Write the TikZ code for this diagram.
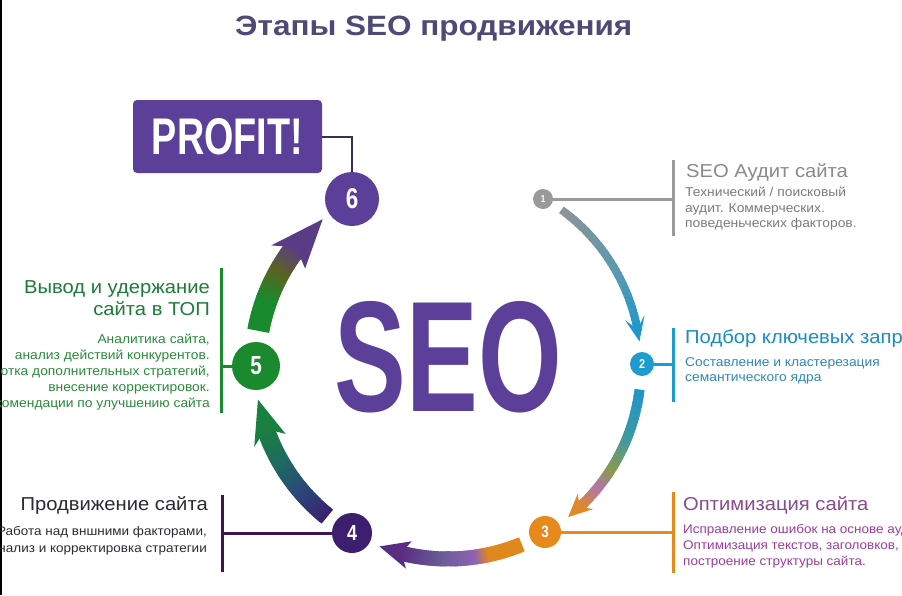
\documentclass[tikz,border=0pt]{standalone}
\usepackage{fontspec}
\setmainfont{Liberation Sans}[FakeStretch=1.08]
\newfontfamily\plainfont{Liberation Sans}
\usetikzlibrary{calc}
\definecolor{seopurple}{HTML}{5B3F99}
\definecolor{titlecol}{HTML}{4E4A78}
\definecolor{gray1}{HTML}{9A9A9A}
\definecolor{gtext}{HTML}{8A8A8A}
\definecolor{gsub}{HTML}{7B7B7B}
\definecolor{blue2}{HTML}{1E9BCF}
\definecolor{btext}{HTML}{1B8DC0}
\definecolor{bsub}{HTML}{2E88B5}
\definecolor{orange3}{HTML}{E8891C}
\definecolor{otext}{HTML}{8A4A8E}
\definecolor{osub}{HTML}{9B3D9B}
\definecolor{purple4}{HTML}{3E1E6E}
\definecolor{ptext}{HTML}{2B2B35}
\definecolor{pbar}{HTML}{3A1658}
\definecolor{green5}{HTML}{1B8A2E}
\definecolor{gntext}{HTML}{1E7B3A}
\definecolor{gnsub}{HTML}{2A8A3A}
\definecolor{linksix}{HTML}{3A2F5A}
% arrow gradient colours
\definecolor{ca1}{HTML}{8E9396}
\definecolor{ca2}{HTML}{5E98AE}
\definecolor{ca3}{HTML}{2198CB}
\definecolor{cb1}{HTML}{1E96C8}
\definecolor{cb2}{HTML}{3C9AA5}
\definecolor{cb3}{HTML}{8C9A4E}
\definecolor{cb4}{HTML}{B276A8}
\definecolor{cb5}{HTML}{E0892A}
\definecolor{cc1}{HTML}{E0881E}
\definecolor{cc2}{HTML}{9063B5}
\definecolor{cc3}{HTML}{6A5C96}
\definecolor{cc4}{HTML}{5A2D82}
\definecolor{cd1}{HTML}{3C2070}
\definecolor{cd2}{HTML}{2A4A78}
\definecolor{cd3}{HTML}{1E6A62}
\definecolor{cd4}{HTML}{1A8040}
\definecolor{ce1}{HTML}{1A8A2E}
\definecolor{ce2}{HTML}{5A6420}
\definecolor{ce3}{HTML}{5A3C86}
% gradient band along the circle: start angle, end angle, width, colour 1, colour 2
\newcommand\gband[5]{%
  \foreach \k in {1,...,16}{%
    \pgfmathsetmacro\gA{#1+(#2-#1)*(\k-1)/16}%
    \pgfmathsetmacro\gB{#1+(#2-#1)*(\k+0.6)/16}%
    \pgfmathtruncatemacro\pc{100-100*(\k-0.5)/16}%
    \draw[line width=#3pt, draw=#4!\pc!#5] ($(C)+(\gA:193pt)$) arc[start angle=\gA, end angle=\gB, radius=193pt];
  }%
}
% arrow head: tip angle, barb angle, notch angle, outer r, inner r, colour
\newcommand\ghead[6]{%
  \fill[#6] ($(C)+(#1:193pt)$) -- ($(C)+(#2:#4pt)$) -- ($(C)+(#3:193pt)$) -- ($(C)+(#2:#5pt)$) -- cycle;
}
\tikzset{
  numc/.style={circle, inner sep=0pt, text=white},
  ttl/.style={inner sep=0pt, font=\fontsize{18.7}{22}\selectfont},
  sub/.style={inner sep=0pt, font=\fontsize{12.8}{15}\selectfont},
  subs/.style={inner sep=0pt, font=\fontsize{12.5}{15}\selectfont},
  bar/.style={line width=3pt},
}
\begin{document}
\begin{tikzpicture}[x=1pt,y=1pt]
\useasboundingbox (0,0) rectangle (902,-595);
\clip (0,0) rectangle (902,-595);
\fill[white] (0,0) rectangle (902,-595);
\draw[black, line width=2pt] (1,0) -- (1,-595);

\coordinate (C) at (448,-366);

% title
\node[inner sep=0pt, text=titlecol, anchor=base west] (title) at (235,-35)
  {\resizebox{397pt}{19.5pt}{\bfseries Этапы SEO продвижения}};

% big SEO
\node[inner sep=0pt, text=seopurple] (seo) at (448.5,-357)
  {\resizebox{227pt}{110pt}{\plainfont\bfseries SEO}};

% arrows
% 1 -> 2
\gband{54}{30}{8}{ca1}{ca2}
\gband{30}{11}{8}{ca2}{ca3}
\ghead{7.3}{14.5}{11}{203}{183}{ca3}
% 2 -> 3
\gband{-7}{-22}{10}{cb1}{cb2}
\gband{-22}{-33}{10}{cb2}{cb3}
\gband{-33}{-39}{10}{cb3}{cb4}
\gband{-39}{-47}{10}{cb4}{cb5}
\ghead{-51.5}{-44.5}{-47}{204}{182}{cb5}
% 3 -> 4
\gband{-67.5}{-78}{15}{cc1}{cc1}
\gband{-78}{-82}{15}{cc1}{cc2}
\gband{-82}{-92}{15}{cc2}{cc3}
\gband{-92}{-104}{15}{cc3}{cc4}
\ghead{-110.8}{-101.7}{-104}{207}{179}{cc4}
% 4 -> 5
\gband{-128.7}{-140}{18}{cd1}{cd2}
\gband{-140}{-150}{18}{cd2}{cd3}
\gband{-150}{-161}{18}{cd3}{cd4}
\ghead{-170}{-157.3}{-161}{210}{176}{cd4}
% 5 -> 6
\gband{169.5}{160}{22}{ce1}{ce1}
\gband{160}{151}{22}{ce1}{ce2}
\gband{151}{142}{22}{ce2}{ce3}
\ghead{130.5}{145.7}{142}{214}{173}{ce3}

% numbered circles
\node[numc, fill=gray1, minimum size=20pt] (n1) at (543,-199) {\resizebox{4.5pt}{7pt}{\plainfont\bfseries 1}};
\node[numc, fill=blue2, minimum size=24pt] (n2) at (642,-364) {\resizebox{6pt}{9pt}{\plainfont\bfseries 2}};
\node[numc, fill=orange3, minimum size=32pt] (n3) at (545,-532) {\resizebox{7.5pt}{11.5pt}{\plainfont\bfseries 3}};
\node[numc, fill=purple4, minimum size=40pt] (n4) at (352,-533) {\resizebox{10pt}{15pt}{\plainfont\bfseries 4}};
\node[numc, fill=green5, minimum size=48pt] (n5) at (256,-366) {\resizebox{11.5pt}{18pt}{\plainfont\bfseries 5}};
\node[numc, fill=seopurple, minimum size=54pt] (n6) at (352,-199) {\resizebox{12.5pt}{20pt}{\plainfont\bfseries 6}};

% PROFIT box
\node[fill=seopurple, rounded corners=4pt, minimum width=189pt, minimum height=73pt, inner sep=0pt, text=white] (profit) at (227.5,-136.5)
  {\resizebox{151pt}{36pt}{\plainfont\bfseries PROFIT!}};
\draw[linksix, line width=2pt] (profit.east) -| (n6.north);

% connector bars
\coordinate (b1t) at (673,-160); \coordinate (b1b) at (673,-236); \coordinate (b1m) at (673,-199);
\coordinate (b2t) at (673,-328); \coordinate (b2b) at (673,-402); \coordinate (b2m) at (673,-364);
\coordinate (b3t) at (673,-492); \coordinate (b3b) at (673,-573); \coordinate (b3m) at (673,-532);
\coordinate (b4t) at (222,-495); \coordinate (b4b) at (222,-572); \coordinate (b4m) at (222,-533);
\coordinate (b5t) at (221,-268); \coordinate (b5b) at (221,-413); \coordinate (b5m) at (221,-366);

\draw[bar, gray1] (n1.east) -- (b1m); \draw[bar, gray1] (b1t) -- (b1b);
\draw[bar, blue2] (n2.east) -- (b2m); \draw[bar, blue2] (b2t) -- (b2b);
\draw[bar, orange3] (n3.east) -- (b3m); \draw[bar, orange3] (b3t) -- (b3b);
\draw[bar, pbar] (n4.west) -- (b4m); \draw[bar, pbar] (b4t) -- (b4b);
\draw[bar, green5] (n5.west) -- (b5m); \draw[bar, green5] (b5t) -- (b5b);

% step 1 text
\node[ttl, text=gtext, anchor=base west] (t1) at (686,-177) {SEO Аудит сайта};
\node[sub, text=gsub, anchor=base west] (t1a) at (685,-196) {Технический / поисковый};
\node[sub, text=gsub, anchor=base west] (t1b) at (685,-212) {аудит. Коммерческих.};
\node[sub, text=gsub, anchor=base west] (t1c) at (685,-227.5) {поведеньческих факторов.};

% step 2 text
\node[ttl, text=btext, anchor=base west] (t2) at (685,-343) {Подбор ключевых запросов};
\node[sub, text=bsub, anchor=base west] (t2a) at (685,-366) {Составление и кластерезация};
\node[sub, text=bsub, anchor=base west] (t2b) at (685,-381) {семантического ядра};

% step 3 text
\node[ttl, text=otext, anchor=base west] (t3) at (683,-510) {Оптимизация сайта};
\node[subs, text=osub, anchor=base west] (t3a) at (683,-533.5) {Исправление ошибок на основе аудита,};
\node[subs, text=osub, anchor=base west] (t3b) at (683,-549.5) {Оптимизация текстов, заголовков,};
\node[subs, text=osub, anchor=base west] (t3c) at (683,-565.5) {построение структуры сайта.};

% step 4 text
\node[ttl, text=ptext, anchor=base east] (t4) at (208,-510) {Продвижение сайта};
\node[subs, text=ptext, anchor=base east] (t4a) at (207,-535) {Работа над вншними факторами,};
\node[subs, text=ptext, anchor=base east] (t4b) at (207,-552) {Анализ и корректировка стратегии};

% step 5 text
\node[ttl, text=gntext, anchor=base east] (t5) at (210,-293) {Вывод и удержание};
\node[ttl, text=gntext, anchor=base east] (t5b) at (210,-315) {сайта в ТОП};
\node[sub, text=gnsub, anchor=base east] (t5c) at (210,-343) {Аналитика сайта,};
\node[sub, text=gnsub, anchor=base east] (t5d) at (210,-359.5) {анализ действий конкурентов.};
\node[sub, text=gnsub, anchor=base east] (t5e) at (210,-375) {Разработка дополнительных стратегий,};
\node[sub, text=gnsub, anchor=base east] (t5f) at (210,-391) {внесение корректировок.};
\node[sub, text=gnsub, anchor=base east] (t5g) at (210,-407) {Рекомендации по улучшению сайта};
\end{tikzpicture}
\end{document}
